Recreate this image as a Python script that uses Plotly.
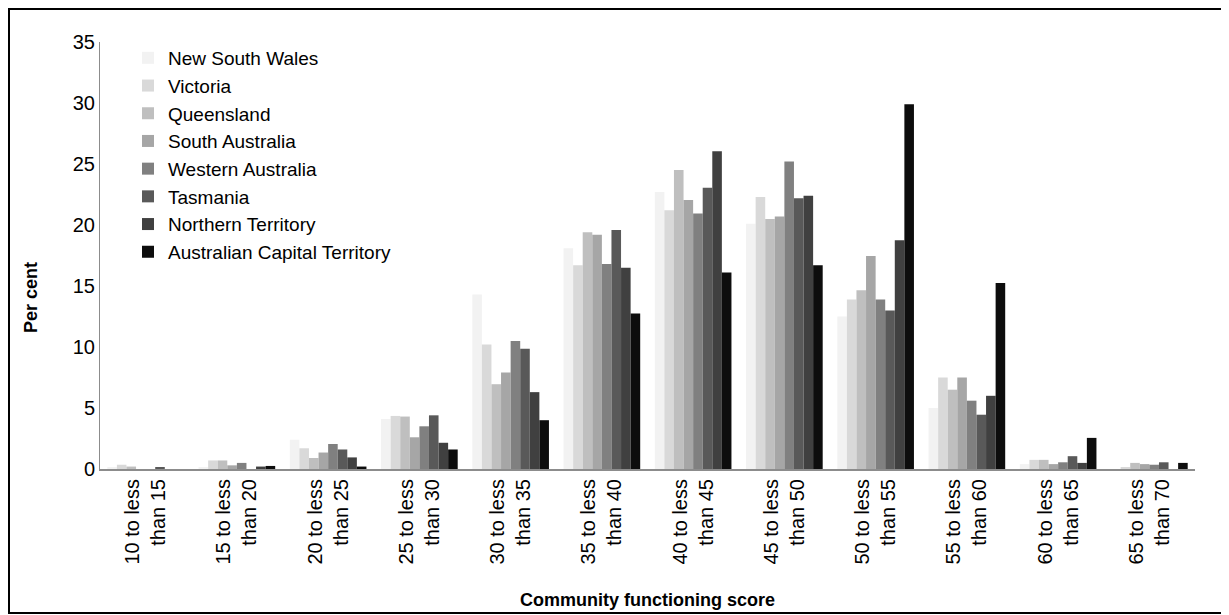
import plotly.graph_objects as go

categories = [
    '10 to less<br>than 15', '15 to less<br>than 20', '20 to less<br>than 25',
    '25 to less<br>than 30', '30 to less<br>than 35', '35 to less<br>than 40',
    '40 to less<br>than 45', '45 to less<br>than 50', '50 to less<br>than 55',
    '55 to less<br>than 60', '60 to less<br>than 65', '65 to less<br>than 70',
]

nsw = [0.1, 0.1, 2.4, 4.1, 14.3, 18.1, 22.7, 20.1, 12.5, 5.0, 0.4, 0.0]
vic = [0.35, 0.7, 1.7, 4.35, 10.2, 16.7, 21.2, 22.3, 13.9, 7.5, 0.75, 0.15]
qld = [0.2, 0.7, 0.9, 4.3, 6.95, 19.4, 24.5, 20.5, 14.65, 6.5, 0.75, 0.5]
sa = [0.0, 0.3, 1.35, 2.6, 7.9, 19.2, 22.05, 20.7, 17.45, 7.5, 0.4, 0.4]
wa = [0.0, 0.5, 2.05, 3.5, 10.5, 16.8, 20.95, 25.2, 13.9, 5.6, 0.55, 0.35]
tas = [0.15, 0.0, 1.6, 4.4, 9.85, 19.6, 23.05, 22.2, 13.0, 4.45, 1.05, 0.55]
nt = [0.0, 0.2, 0.95, 2.15, 6.3, 16.5, 26.05, 22.4, 18.75, 6.0, 0.5, 0.0]
act = [0.0, 0.25, 0.2, 1.6, 4.0, 12.75, 16.1, 16.7, 29.9, 15.25, 2.55, 0.5]

series = [
    ('New South Wales', nsw, '#F2F2F2'),
    ('Victoria', vic, '#D9D9D9'),
    ('Queensland', qld, '#BFBFBF'),
    ('South Australia', sa, '#A6A6A6'),
    ('Western Australia', wa, '#808080'),
    ('Tasmania', tas, '#595959'),
    ('Northern Territory', nt, '#404040'),
    ('Australian Capital Territory', act, '#0D0D0D'),
]

# the page body adds an 8px margin, so the figure is sized to fit after it
OFF = 8
W, H = 1229 - OFF, 615 - OFF
L, T = 100 - OFF, 42 - OFF
R = W - (1195 - OFF)
B = H - (469 - OFF)
pw, ph = W - L - R, H - T - B


def px(x):
    # page pixel -> paper x
    return (x - OFF - L) / pw


def py(y):
    # page pixel -> paper y
    return (H - B - (y - OFF)) / ph


fig = go.Figure()
for name, vals, color in series:
    fig.add_trace(go.Bar(
        x=categories,
        y=vals,
        name=name,
        marker=dict(color=color, line=dict(width=0)),
    ))

font = 'Liberation Sans, Arial, sans-serif'

fig.update_layout(
    width=W,
    height=H,
    margin=dict(l=L, r=R, t=T, b=B, autoexpand=False),
    barmode='group',
    bargap=0.16,
    bargroupgap=0,
    paper_bgcolor='white',
    plot_bgcolor='white',
    font=dict(family=font, size=18, color='#000000'),
    showlegend=True,
    legend=dict(
        x=px(128), y=py(39), xanchor='left', yanchor='top',
        bgcolor='rgba(0,0,0,0)',
        font=dict(family=font, size=19, color='#000000'),
        itemwidth=30,
        tracegroupgap=0,
    ),
    xaxis=dict(
        showline=True, linecolor='#8C8C8C', linewidth=2,
        tickangle=-90, ticks='', showgrid=False,
        tickfont=dict(family=font, size=20),
    ),
    yaxis=dict(
        range=[0, 35], dtick=5, showline=True, linecolor='#8C8C8C', linewidth=1,
        ticks='', showgrid=False, zeroline=False,
        tickfont=dict(family=font, size=20),
    ),
    annotations=[
        dict(text='<b>Community functioning score</b>', xref='paper', yref='paper',
             x=0.5, y=py(600), xanchor='center', yanchor='middle', showarrow=False,
             font=dict(family=font, size=18)),
        dict(text='<b>Per cent</b>', xref='paper', yref='paper',
             x=px(31), y=py(298), xanchor='center', yanchor='middle', showarrow=False,
             textangle=-90, font=dict(family=font, size=18)),
    ],
    shapes=[
        dict(type='rect', xref='paper', yref='paper',
             x0=px(OFF + 1), x1=px(1227), y0=py(613), y1=py(OFF + 1),
             line=dict(color='#000000', width=2), fillcolor='rgba(0,0,0,0)'),
    ],
)

fig.write_html("out.html")
